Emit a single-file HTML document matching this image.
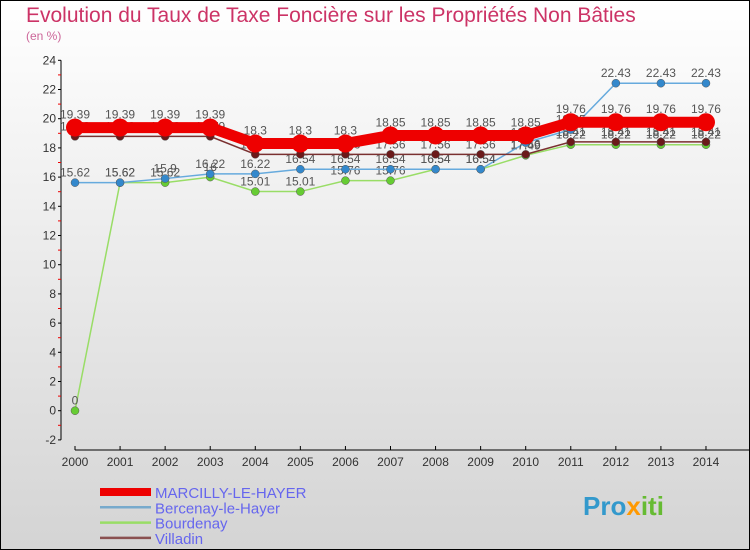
<!DOCTYPE html>
<html><head><meta charset="utf-8"><style>
body{margin:0}
svg{display:block;font-family:"Liberation Sans",sans-serif}
</style></head><body>
<svg id="c" width="750" height="550">
<defs><linearGradient id="bg" x1="0" y1="0" x2="0" y2="1"><stop offset="0" stop-color="#ffffff"/><stop offset="1" stop-color="#d4d4d4"/></linearGradient></defs>
<rect x="0.5" y="0.5" width="749" height="549" fill="url(#bg)" stroke="#000"/>
<text x="26" y="22" font-size="21" fill="#cc3366">Evolution du Taux de Taxe Foncière sur les Propriétés Non Bâties</text>
<text x="26" y="40" font-size="12" fill="#cc6699">(en %)</text>
<g id="axes"></g><g id="marks"></g><g id="legend"></g>
<text x="583" y="515" font-size="26" font-weight="bold" fill="#3399cc">Pro<tspan fill="#ff9900">x</tspan><tspan fill="#66bb33">iti</tspan></text>
</svg>
<script>
const years=[2000,2001,2002,2003,2004,2005,2006,2007,2008,2009,2010,2011,2012,2013,2014];
const marcilly=[19.39,19.39,19.39,19.39,18.3,18.3,18.3,18.85,18.85,18.85,18.85,19.76,19.76,19.76,19.76];
const bercenay=[15.62,15.62,15.9,16.22,16.22,16.54,16.54,16.54,16.54,16.54,18.36,19.25,22.43,22.43,22.43];
const bourdenay=[0,15.62,15.62,16,15.01,15.01,15.76,15.76,16.54,16.54,17.49,18.22,18.22,18.22,18.22];
const villadin=[18.79,18.79,18.79,18.79,17.56,17.56,17.56,17.56,17.56,17.56,17.56,18.41,18.41,18.41,18.41];
const yTicks=[-2,0,2,4,6,8,10,12,14,16,18,20,22,24];
const seriesNames=["MARCILLY-LE-HAYER","Bercenay-le-Hayer","Bourdenay","Villadin"];
const NS="http://www.w3.org/2000/svg";
const xS=i=>75+i*45.07;
const yS=v=>410.7-v*14.6;
function mk(p,t,a){const e=document.createElementNS(NS,t);for(const k in a)e.setAttribute(k,a[k]);p.appendChild(e);return e;}
const ax=document.getElementById('axes');
let l=mk(ax,'line',{x1:61,y1:yS(24),x2:61,y2:yS(-2),stroke:'#000'});


l=mk(ax,'line',{x1:75,y1:450,x2:750,y2:450,stroke:'#000'});


yTicks.forEach(v=>{
 mk(ax,'line',{x1:58,y1:yS(v),x2:61,y2:yS(v),stroke:'#000'});
 mk(ax,'line',{x1:58,y1:yS(v+1),x2:61,y2:yS(v+1),stroke:'#e00'}).style.display=v<24?'':'none';
 const t=mk(ax,'text',{x:56,y:yS(v)+4,'font-size':12,fill:'#333','text-anchor':'end'});t.textContent=v;
 
 
});
years.forEach((y,i)=>{
 mk(ax,'line',{x1:xS(i),y1:446,x2:xS(i),y2:450,stroke:'#000'});
 const t=mk(ax,'text',{x:xS(i),y:466,'font-size':12,fill:'#333','text-anchor':'middle'});t.textContent=y;
 
 
});
const mg=document.getElementById('marks');
const defs=[[bourdenay,'#99dd66','#66cc33',1.5,4,'bourdenay'],[bercenay,'#66aadd','#3388cc',1.5,4,'bercenay'],[villadin,'#7a3030','#6b1a1a',1.5,4,'villadin'],[marcilly,'#ee0000','#ee0000',11,9,'marcilly']];
defs.forEach(([d,lc,pc,w,r,n])=>{
 const p=mk(mg,'polyline',{points:d.map((v,i)=>xS(i)+','+yS(v)).join(' '),fill:'none',stroke:lc,'stroke-width':w});
 
 
 d.forEach((v,i)=>{
  const c=mk(mg,'circle',{cx:xS(i),cy:yS(v),r:r,fill:pc,stroke:n=='marcilly'?'none':'#555','stroke-width':0.5});
  
  
  const t=mk(mg,'text',{x:xS(i),y:yS(v)-(n=='marcilly'?9:6),'font-size':12,fill:'#555','text-anchor':'middle'});
  t.textContent=v;
  
  
 });
});
const lg=document.getElementById('legend');
const lc=['#ee0000','#77aacc','#99dd66','#8a5050'],lw=[8,2.5,2.5,2.5];
seriesNames.forEach((s,i)=>{
 const y=492+i*15.3;
 const ln=mk(lg,'line',{x1:100,y1:y,x2:151,y2:y,stroke:lc[i],'stroke-width':lw[i]});
 
 
 const t=mk(lg,'text',{x:155,y:y+6,'font-size':15,fill:'#6666ee'});t.textContent=s;
 
 
});
</script>
</body></html>
